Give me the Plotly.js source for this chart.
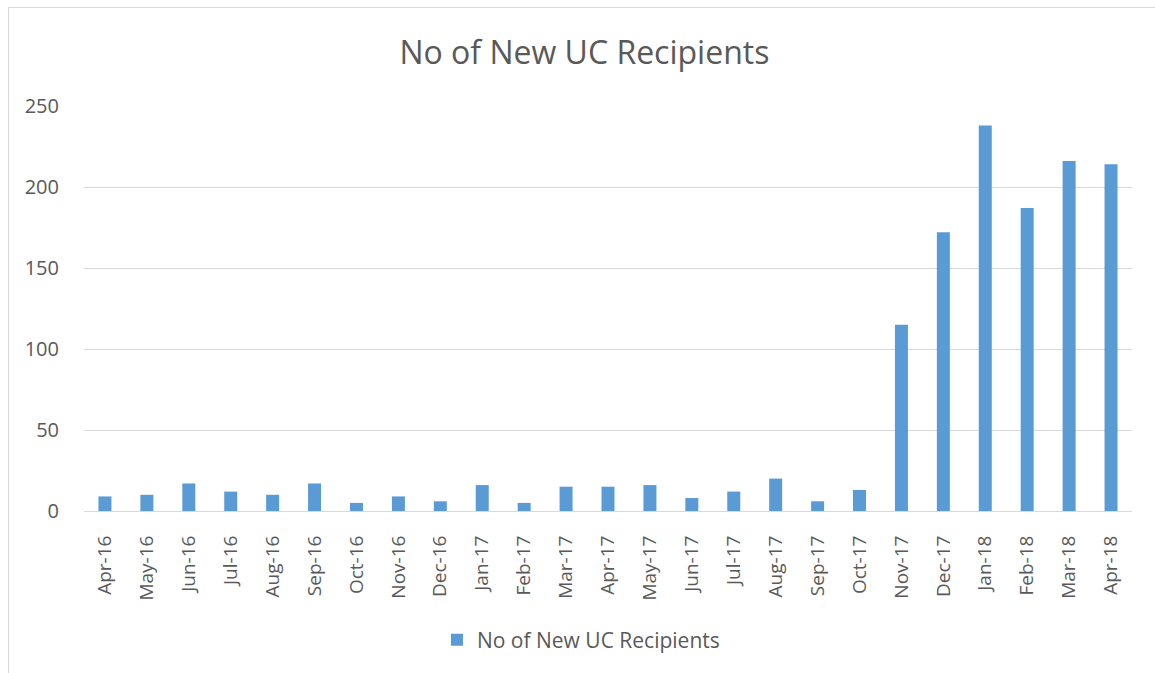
<!DOCTYPE html>
<html><head><meta charset="utf-8">
<script src="https://cdn.plot.ly/plotly-3.0.1.min.js"></script>
<style>
html,body{margin:0;padding:0;background:#fff;}
#chart{position:absolute;left:0;top:0;width:1155px;height:673px;}
#frame{position:absolute;left:8px;top:7px;width:1200px;height:700px;border-left:1px solid #d9d9d9;border-top:1px solid #d9d9d9;pointer-events:none;}
</style></head>
<body>
<div id="chart"></div><div id="frame"></div>
<script>
const months = ["Apr-16","May-16","Jun-16","Jul-16","Aug-16","Sep-16","Oct-16","Nov-16","Dec-16","Jan-17","Feb-17","Mar-17","Apr-17","May-17","Jun-17","Jul-17","Aug-17","Sep-17","Oct-17","Nov-17","Dec-17","Jan-18","Feb-18","Mar-18","Apr-18"];
const recipients = [9,10,17,12,10,17,5,9,6,16,5,15,15,16,8,12,20,6,13,115,172,238,187,216,214];
const seriesName = "No of New UC Recipients";
const yTicks = [0,50,100,150,200,250];

const font = "'Open Sans', sans-serif";
Plotly.newPlot('chart', [{
  type: 'bar', x: months, y: recipients, name: seriesName,
  marker: {color: '#5b9bd5'}, showlegend: true
}], {
  width: 1155, height: 673,
  margin: {l: 84, r: 23, t: 106, b: 162},
  paper_bgcolor: '#fff', plot_bgcolor: '#fff',
  bargap: 0.69,
  title: {text: 'No of New UC Recipients', x: 0.506, xanchor: 'center', y: 0.922, yanchor: 'middle',
    font: {family: font, size: 32, color: '#595959'}},
  xaxis: {type: 'category', tickangle: -90, tickfont: {family: font, size: 19, color: '#595959'},
    showline: true, linecolor: '#d9d9d9', linewidth: 1, showgrid: false, automargin: false,
    ticks: 'outside', ticklen: 16, tickcolor: 'rgba(0,0,0,0)'},
  yaxis: {range: [0, 250], tickvals: yTicks, tickfont: {family: font, size: 20, color: '#595959'},
    gridcolor: '#d9d9d9', gridwidth: 1, zeroline: false, showline: false, automargin: false,
    ticks: 'outside', ticklen: 20, tickcolor: 'rgba(0,0,0,0)'},
  showlegend: true,
  legend: {orientation: 'h', xref: 'container', yref: 'container', x: 0.503, xanchor: 'center', y: 0.049, yanchor: 'middle',
    font: {family: font, size: 21, color: '#595959'}, itemwidth: 30}
}, {displayModeBar: false});
</script>
</body></html>
